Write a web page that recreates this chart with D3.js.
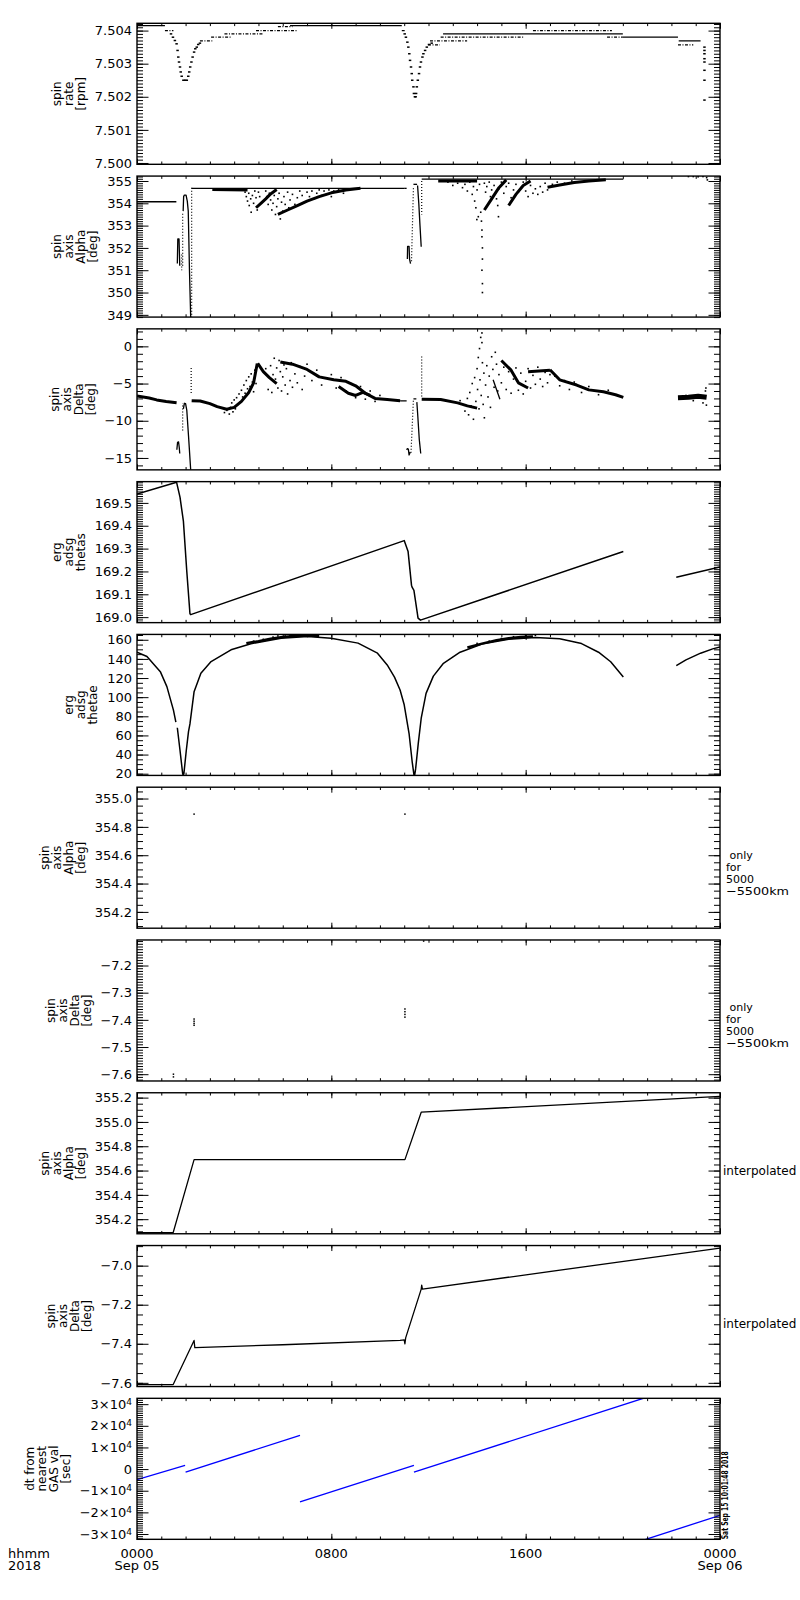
<!DOCTYPE html>
<html><head><meta charset="utf-8">
<script src="https://cdn.jsdelivr.net/npm/d3@7"></script>
<style>
body{margin:0;background:#fff}
svg{display:block}
text{font-family:"DejaVu Sans",sans-serif;fill:#000}
</style>
</head><body>
<svg id="c" width="800" height="1600"></svg>
<script>
// ================= DATA (hours since 2018-09-05 00:00 UT) =================
const hourDomain=[0,24];
const xMajorHours=[0,8,16,24];
const xMajorLabels=[["0000","Sep 05"],["0800"],["1600"],["0000","Sep 06"]];
const xCornerLabels=["hhmm","2018"];

// Panel 1: spin rate [rpm]
const rateRange=[7.49996,7.50422];
const rateTicks=[7.500,7.501,7.502,7.503,7.504];
const rateTitle=["spin","rate","[rpm]"];
const rateSegsSolid=[[0,1.15,7.50415],[6.3,10.9,7.50415],[12.6,20.0,7.5039],[20.0,22.27,7.5038],[22.3,23.2,7.50369]];
const rateSegsDashed=[[1.15,1.5,7.5040],[2.59,3.1,7.50369],[3.05,3.87,7.5038],[3.6,5.2,7.5039],[4.9,6.6,7.5040],[5.8,6.4,7.50412],[10.9,11.02,7.5040],[11.98,12.47,7.50357],[12.06,13.59,7.50369],[12.5,15.9,7.5038],[16.3,19.55,7.5040],[19.35,20.0,7.5038],[22.27,22.9,7.50357]];
const rateDots=[[1.40,7.5039],[1.48,7.5038],[1.56,7.5037],[1.63,7.5036],[1.67,7.5034],[1.70,7.5032],[1.73,7.50305],[1.77,7.5029],[1.80,7.50275],[1.84,7.50262],[1.91,7.5025],[1.98,7.5025],[2.05,7.5025],[2.11,7.50262],[2.15,7.50275],[2.19,7.5029],[2.24,7.50305],[2.29,7.5032],[2.35,7.50335],[2.40,7.50345],[2.46,7.5035],[2.52,7.50358],[2.59,7.50362],
 [11.02,7.5039],[11.07,7.5038],[11.13,7.50365],[11.17,7.5035],[11.21,7.5033],[11.24,7.5031],[11.28,7.5029],[11.31,7.5027],[11.33,7.5025],[11.38,7.5023],[11.40,7.5021],[11.44,7.5020],[11.47,7.5020],[11.49,7.5021],[11.52,7.5023],[11.56,7.5025],[11.61,7.5027],[11.65,7.5029],[11.69,7.50305],[11.75,7.5032],[11.79,7.5033],[11.86,7.5034],[11.93,7.5035],[12.02,7.50358],[12.13,7.50362],
 [23.36,7.5035],[23.36,7.5034],[23.36,7.5033],[23.36,7.50315],[23.36,7.50305],[23.36,7.5028],[23.36,7.5025],[23.36,7.5019]];

// Panel 2: spin axis alpha [deg]
const alphaRange=[348.9,355.22];
const alphaTicks=[349,350,351,352,353,354,355];
const alphaTitle=["spin","axis","Alpha","[deg]"];
const alphaSolid=[
 [[0,354.07],[1.62,354.07]],
 [[1.66,351.3],[1.68,352.4],[1.73,352.4],[1.76,351.2]],
 [[1.90,353.65],[1.92,354.3],[1.95,354.37],[2.02,354.37],[2.07,354.1],[2.11,353.65],[2.16,351],[2.21,348.9]],
 [[2.25,354.67],[11.0,354.67]],
 [[11.0,354.67],[11.1,354.67]],
 [[11.13,351.5],[11.14,352.07],[11.2,352.07],[11.22,351.5],[11.26,351.3]],
 [[11.38,354.85],[11.53,354.85]],
 [[11.55,354.8],[11.6,354.0],[11.65,353.0],[11.7,352.05]],
 [[11.72,355.08],[20.02,355.08]]];
const alphaDotted=[
 [[1.84,351.7],[1.84,351.0]],
 [[1.88,351.2],[1.88,353.6]],
 [[2.25,354.7],[2.25,348.9]],
 [[11.3,351.4],[11.38,354.7]],
 [[11.72,355.0],[11.72,353.5]]];
const alphaBands=[
 [[3.1,354.62],[4.55,354.6]],
 [[4.9,353.8],[5.1,354.0],[5.3,354.2],[5.5,354.42],[5.75,354.62]],
 [[5.8,353.5],[6.2,353.7],[6.6,353.9],[7.0,354.1],[7.5,354.3],[8.0,354.47],[8.6,354.6],[9.2,354.67]],
 [[12.4,355.0],[14.0,355.0]],
 [[14.3,353.7],[14.6,354.2],[14.9,354.7],[15.2,355.05]],
 [[15.3,353.9],[15.6,354.4],[15.9,354.8],[16.2,355.0]],
 [[16.9,354.72],[17.4,354.82],[18.0,354.93],[18.6,355.0],[19.3,355.06]]];
const alphaScatter=[[4.45,354.5],[4.5,354.3],[4.55,354.1],[4.6,354.45],[4.62,353.9],[4.68,354.2],[4.7,353.6],[4.75,354.35],[4.8,354.0],[4.85,354.55],[4.9,354.25],[4.95,353.7],[5.0,354.5],[5.05,354.3],
 [5.3,354.55],[5.35,354.3],[5.4,353.95],[5.45,354.45],[5.5,354.15],[5.55,353.7],[5.6,354.0],[5.65,354.35],[5.7,353.5],[5.75,353.85],[5.8,354.2],[5.85,354.45],[5.9,353.3],[5.95,354.05],[6.0,353.65],[6.05,354.3],[6.1,353.95],[6.2,354.5],[6.25,353.8],[6.3,354.15],[6.4,354.4],[6.5,353.95],[6.6,354.25],
 [6.7,354.55],[6.8,354.35],[6.9,354.05],[7.0,354.5],[7.1,354.3],[7.2,354.55],[7.3,354.2],[7.4,354.45],[7.5,354.6],[7.6,354.35],[7.7,354.55],[7.8,354.4],[7.9,354.6],[8.0,354.3],[8.1,354.55],[8.3,354.6],[8.5,354.45],[8.7,354.62],
 [14.15,353.6],[14.18,353.2],[14.2,352.8],[14.2,352.5],[14.22,352.0],[14.22,351.5],[14.2,351.0],[14.22,350.4],[14.22,350.0],[13.99,353.27],[14.88,353.4],
 [12.8,354.95],[13.0,354.8],[13.2,354.9],[13.4,354.7],[13.5,354.85],[13.6,354.55],[13.7,354.95],[13.8,354.4],[13.85,354.75],[13.9,354.1],[13.95,353.8],[14.0,354.6],[14.05,353.4],[14.1,354.85],[14.3,354.9],[14.35,354.5],[14.4,354.75],[14.5,354.95],[14.55,354.3],[14.6,354.6],[14.7,354.8],[14.8,354.2],[14.85,353.9],[14.9,354.65],[15.0,354.95],[15.1,354.45],[15.2,354.75],[15.3,354.9],[15.4,354.25],[15.5,354.6],[15.6,354.85],[15.7,354.5],[15.8,354.7],[15.9,354.95],[16.0,354.55],[16.1,354.3],[16.2,354.8],[16.3,354.45],[16.4,354.65],[16.5,354.4],[16.6,354.75],[16.7,354.5],[16.8,354.9],[16.9,354.6],[17.1,354.85],[17.3,354.95],[17.6,354.9],[17.9,355.0],
 [22.7,355.2],[22.9,355.2],[23.1,355.19],[23.3,355.2],[23.45,355.15],[23.48,355.05]];

// Panel 3: spin axis delta [deg]
const deltaRange=[-16.6,2.35];
const deltaTicks=[-15,-10,-5,0];
const deltaTitle=["spin","axis","Delta","[deg]"];
const deltaSolid=[
 [[1.64,-13.9],[1.67,-12.9],[1.71,-12.84],[1.74,-13.6],[1.76,-14.4]],
 [[1.91,-8.4],[1.95,-7.65],[2.0,-7.7],[2.05,-8.6],[2.12,-12],[2.21,-16.6]],
 [[10.83,-7.34],[11.1,-7.34]],
 [[11.1,-13.9],[11.13,-13.75],[11.17,-13.8],[11.2,-14.6],[11.25,-14.2]],
 [[11.38,-7.07],[11.5,-7.07]],
 [[11.52,-7.5],[11.56,-9.4],[11.62,-12.5],[11.68,-14.4]],
 [[14.66,-4.5],[14.94,-7.1]]];
const deltaDotted=[
 [[1.88,-11.3],[1.88,-7.65]],
 [[2.23,-2.9],[2.23,-6.5]],
 [[11.28,-14.3],[11.38,-7.1]],
 [[11.72,-1.35],[11.72,-6.9]]];
const deltaBands=[
 [[0,-6.66],[0.5,-6.95],[0.81,-7.2],[1.2,-7.4],[1.63,-7.57]],
 [[2.25,-7.3],[2.6,-7.35],[3.0,-7.7],[3.3,-8.1],[3.69,-8.45],[4.0,-8.2],[4.3,-7.4],[4.6,-6.2],[4.8,-4.9],[4.95,-2.3]],
 [[4.97,-2.3],[5.2,-3.4],[5.45,-4.2],[5.75,-5.0]],
 [[5.9,-2.1],[6.4,-2.4],[7.0,-3.1],[7.5,-4.1],[8.1,-4.5],[8.6,-4.7],[9.0,-5.3],[9.4,-6.3],[9.8,-7.0],[10.3,-7.15],[10.83,-7.3]],
 [[8.3,-5.4],[8.7,-6.3],[9.0,-6.6],[9.3,-6.2],[9.6,-6.6]],
 [[11.72,-7.1],[12.5,-7.15],[13.2,-7.6],[13.6,-8.0],[14.0,-8.3]],
 [[15.0,-1.9],[15.4,-3.2],[15.7,-4.9],[16.1,-5.6]],
 [[16.1,-3.4],[17.0,-3.2]],
 [[17.0,-3.15],[17.4,-4.5],[18.1,-5.2],[18.6,-5.85],[19.2,-6.1],[19.7,-6.5],[20.02,-6.85]]];
const deltaBlob=[[22.27,-6.9],[22.7,-6.85],[23.1,-6.7],[23.45,-6.85]];
const deltaScatter=[[3.6,-8.9],[3.7,-8.6],[3.8,-9.1],[3.85,-8.2],[3.9,-7.6],[3.95,-8.8],[4.0,-7.2],[4.05,-8.4],[4.1,-6.9],[4.15,-7.8],[4.2,-6.4],[4.25,-7.5],[4.3,-5.9],[4.35,-6.8],[4.4,-5.2],[4.45,-6.3],[4.5,-4.6],[4.55,-5.7],[4.6,-4.1],[4.65,-5.4],[4.7,-3.7],[4.75,-4.8],[4.8,-6.1],[4.85,-3.2],[4.9,-5.0],
 [5.3,-3.0],[5.4,-5.8],[5.5,-2.6],[5.55,-6.2],[5.6,-3.8],[5.65,-1.6],[5.7,-4.4],[5.75,-2.9],[5.8,-5.6],[5.85,-1.9],[5.9,-3.4],[5.95,-6.0],[6.0,-4.1],[6.05,-2.5],[6.1,-5.2],[6.15,-3.0],[6.2,-6.4],[6.3,-4.6],[6.35,-2.2],[6.4,-5.5],[6.5,-3.7],[6.6,-4.9],[6.7,-2.7],[6.8,-5.8],[6.9,-4.0],[7.0,-2.4],[7.2,-4.6],[7.4,-3.2],[7.6,-5.2],
 [8.0,-3.8],[8.2,-5.6],[8.4,-4.2],[8.6,-6.0],[8.8,-5.0],[9.0,-6.9],[9.2,-5.4],[9.4,-7.1],[9.6,-6.0],[9.8,-7.4],[10.0,-6.6],
 [13.3,-7.3],[13.5,-8.7],[13.6,-7.0],[13.65,-9.2],[13.7,-6.2],[13.75,-8.0],[13.8,-5.0],[13.85,-9.8],[13.9,-4.2],[13.95,-7.4],[14.0,-3.0],[14.02,-5.8],[14.05,-1.5],[14.08,-8.4],[14.1,-0.3],[14.12,-4.5],[14.15,1.2],[14.17,-6.6],[14.2,1.8],[14.2,0.5],[14.22,-2.2],[14.25,-7.8],[14.28,-3.6],[14.3,-9.6],[14.35,-5.2],[14.4,-2.6],[14.45,-6.8],[14.5,-4.0],[14.55,-8.2],[14.6,-1.4],[14.65,-3.1],[14.7,-5.5],[14.75,-0.8],[14.8,-2.4],[14.85,-6.0],[14.9,-3.8],[15.0,-4.9],[15.1,-2.8],[15.2,-5.8],[15.3,-3.4],[15.4,-6.3],[15.5,-4.4],[15.6,-2.9],[15.7,-5.9],[15.8,-3.6],[15.9,-6.4],[16.0,-4.7],[16.1,-3.0],[16.2,-5.6],[16.3,-3.9],[16.4,-5.1],[16.5,-2.8],[16.6,-4.4],[16.7,-5.4],[16.8,-3.5],[16.9,-4.9],[17.0,-3.8],[17.2,-4.0],[17.4,-5.3],[17.6,-4.6],[17.8,-5.8],[18.0,-4.8],[18.3,-6.2],[18.6,-5.4],[19.0,-6.5],[19.4,-5.9],
 [23.4,-6.0],[23.42,-5.6],[23.44,-7.9],[23.3,-7.6],[22.9,-7.3],[22.6,-6.6]];

// Panel 4: erg adsg thetas
const thetasRange=[168.976,169.593];
const thetasTicks=[169.0,169.1,169.2,169.3,169.4,169.5];
const thetasTitle=["erg","adsg","thetas"];
const thetasLines=[
 [[0,169.539],[1.63,169.59],[1.77,169.525],[1.91,169.42],[2.05,169.2],[2.18,169.015],[2.21,169.011],[11.0,169.335],[11.16,169.287],[11.3,169.14],[11.33,169.13],[11.4,169.117],[11.57,168.996],[11.67,168.987],[20.02,169.287]],
 [[22.2,169.175],[24,169.22]]];

// Panel 5: erg adsg thetae
const thetaeRange=[18.2,165.6];
const thetaeTicks=[20,40,60,80,100,120,140,160];
const thetaeTitle=["erg","adsg","thetae"];
const thetaeLines=[
 [[0,147.1],[0.41,142.5],[0.96,126.7],[1.23,111],[1.5,86.5],[1.6,74]],
 [[1.66,68],[1.77,44.5],[1.88,20],[1.9,18.5],[1.93,20],[2.03,44.5],[2.12,64],[2.18,72],[2.35,105.7],[2.63,125],[3.05,137.2],[3.87,149.5],[4.69,155.8],[5.93,161.7],[7.03,163.5],[7.99,161.7],[9.1,156.5],[9.9,146],[10.3,133.7],[10.6,121],[10.83,107.5],[11.0,92],[11.2,62],[11.33,32],[11.4,19],[11.43,18.5],[11.47,25],[11.58,52],[11.7,78],[11.9,104],[12.2,122],[12.6,135],[13.3,147],[14.2,155.5],[15.3,160.5],[16.4,162.5],[17.4,161],[18.3,156],[19.0,147],[19.5,137],[20.02,121]],
 [[22.2,133],[22.6,139],[23.2,146],[23.7,150.5],[24,152.5]]];
const thetaeBands=[
 [[4.5,156.5],[5.0,158.5],[5.5,161],[6.0,163],[6.5,164],[7.0,164.5],[7.5,164]],
 [[13.6,152],[14.2,156],[14.8,159.5],[15.3,161.5],[15.8,163],[16.3,163.5]]];
const thetaeScatter=[[4.8,158.5],[5.2,160.5],[5.6,162.8],[5.8,164],[6.1,165],[6.3,164.8],[6.6,165.2],[6.9,165],[7.2,165.3],[7.4,164.6],[14.0,156.2],[14.5,158.5],[15.0,161.3],[15.5,163.2],[16.0,164.3],[16.4,164.6]];

// Panel 6: spin axis alpha (5000-5500 km only)
const alpha2Range=[354.085,355.08];
const alpha2Ticks=[354.2,354.4,354.6,354.8,355.0];
const alpha2Dots=[[2.35,354.89],[11.03,354.89]];

// Panel 7: spin axis delta (5000-5500 km only)
const delta2Range=[-7.625,-7.106];
const delta2Ticks=[-7.6,-7.5,-7.4,-7.3,-7.2];
const delta2Dots=[[1.5,-7.60],[1.5,-7.61],[2.35,-7.397],[2.35,-7.405],[2.35,-7.413],[2.35,-7.42],[11.03,-7.36],[11.03,-7.37],[11.03,-7.38],[11.03,-7.39],[11.8,-7.11]];
const onlyNote=[" only","for","5000","\u22125500km"];

// Panel 8: spin axis alpha interpolated
const alpha3Range=[354.08,355.24];
const alpha3Ticks=[354.2,354.4,354.6,354.8,355.0,355.2];
const alpha3Line=[[0,354.09],[1.49,354.09],[2.35,354.69],[11.03,354.69],[11.7,355.08],[24,355.21]];

// Panel 9: spin axis delta interpolated
const delta3Range=[-7.619,-6.897];
const delta3Ticks=[-7.6,-7.4,-7.2,-7.0];
const delta3Line=[[0,-7.609],[1.49,-7.609],[2.35,-7.383],[2.38,-7.42],[6.0,-7.405],[10.83,-7.383],[11.0,-7.38],[11.03,-7.40],[11.06,-7.37],[11.7,-7.12],[11.72,-7.10],[11.75,-7.12],[24,-6.91]];
const interpNote="interpolated";

// Panel 10: dt from nearest GAS value [sec]
const dtRange=[-32450,32700];
const dtTicks=[-30000,-20000,-10000,0,10000,20000,30000];
const dtTitle=["dt from","nearest","GAS val","[sec]"];
const dtSegments=[
 [[0,-4900],[1.98,1700]],
 [[2.0,-1400],[6.71,15600]],
 [[6.71,-15200],[11.4,1700]],
 [[11.4,-1400],[20.84,32700]],
 [[20.94,-32450],[24,-21400]]];
const stampText="Sat Sep 15 10:01:48 2018";

// ================= LAYOUT =================
const svg=d3.select("#c");
const X0=137,X1=720,TOP0=23.3,STEP=152.78,PH=141;
const x=d3.scaleLinear().domain(hourDomain).range([X0,X1]);
const FONT='"DejaVu Sans",sans-serif';

function minorVals(dom,step){
  const lo=Math.min(dom[0],dom[1]),hi=Math.max(dom[0],dom[1]);
  const a=Math.ceil(lo/step-1e-9),b=Math.floor(hi/step+1e-9);
  return d3.range(a,b+1).map(i=>+(i*step).toFixed(8));
}
function styleAxis(sel){
  sel.select(".domain").remove();
  sel.selectAll("line").attr("stroke","#000").attr("stroke-width",1);
  sel.attr("font-family",FONT).attr("font-size",13);
}
function bare(sel){ styleAxis(sel); sel.selectAll("text").remove(); }

function makePanel(i,cfg){
  const top=TOP0+i*STEP,bot=top+PH;
  const y=d3.scaleLinear().domain(cfg.domain).range([bot,top]);
  const g=svg.append("g");
  const cid="clip"+i;
  svg.append("clipPath").attr("id",cid).append("rect").attr("x",X0).attr("y",top).attr("width",X1-X0).attr("height",PH);
  const data=g.append("g").attr("clip-path",`url(#${cid})`);
  const minors=minorVals(cfg.domain,cfg.minor);
  const la=g.append("g").attr("transform",`translate(${X0},0)`)
    .call(d3.axisLeft(y).tickValues(cfg.ticks).tickSize(-11.5).tickPadding(5).tickFormat(cfg.fmt));
  styleAxis(la);
  la.selectAll("text").attr("fill","#000");
  g.append("g").attr("transform",`translate(${X0},0)`).call(d3.axisLeft(y).tickValues(minors).tickSize(-6)).call(bare);
  g.append("g").attr("transform",`translate(${X1},0)`).call(d3.axisRight(y).tickValues(cfg.ticks).tickSize(-11.5)).call(bare);
  g.append("g").attr("transform",`translate(${X1},0)`).call(d3.axisRight(y).tickValues(minors).tickSize(-6)).call(bare);
  const hrs=d3.range(hourDomain[0],hourDomain[1]+1);
  [[d3.axisBottom,bot],[d3.axisTop,top]].forEach(([ax,yy])=>{
    g.append("g").attr("transform",`translate(0,${yy})`).call(ax(x).tickValues(xMajorHours).tickSize(-5.5)).call(bare);
    g.append("g").attr("transform",`translate(0,${yy})`).call(ax(x).tickValues(hrs).tickSize(-2.8)).call(bare);
  });
  g.append("rect").attr("x",X0).attr("y",top).attr("width",X1-X0).attr("height",PH)
    .attr("fill","none").attr("stroke","#000").attr("stroke-width",1.4);
  if(cfg.post) cfg.post(la);
  if(cfg.title){
    let left=X0;
    la.selectAll("text").each(function(){const b=this.getBBox();const m=this.getCTM();left=Math.min(left,b.x+m.e);});
    const n=cfg.title.length,lastX=left-14,cy=(top+bot)/2;
    cfg.title.forEach((t,k)=>{
      svg.append("text").attr("transform",`translate(${lastX-(n-1-k)*12},${cy}) rotate(-90)`)
        .attr("text-anchor","middle").attr("dy","0.35em").attr("font-size",12).text(t);
    });
  }
  return {y,data,top,bot};
}

function drawLine(p,pts,w,dash,color){
  p.data.append("path").attr("d",d3.line().x(d=>x(d[0])).y(d=>p.y(d[1]))(pts))
    .attr("fill","none").attr("stroke",color||"#000").attr("stroke-width",w)
    .attr("stroke-dasharray",dash||null).attr("stroke-linejoin","round");
}
function drawDots(p,pts,w,h){
  p.data.selectAll(null).data(pts).enter().append("rect")
    .attr("x",d=>x(d[0])-w/2).attr("y",d=>p.y(d[1])-h/2).attr("width",w).attr("height",h).attr("fill","#000");
}
function drawSegs(p,list,dash){
  list.forEach(s=>drawLine(p,[[s[0],s[2]],[s[1],s[2]]],1.3,dash));
}
const f3=d=>d.toFixed(3), f1=d=>d.toFixed(1), f0=d=>d3.format("d")(d).replace("-","\u2212");
const fneg1=d=>d.toFixed(1).replace("-","\u2212");

const p1=makePanel(0,{domain:rateRange,ticks:rateTicks,minor:0.0001,fmt:f3,title:rateTitle});
drawSegs(p1,rateSegsSolid,null);
drawSegs(p1,rateSegsDashed,"3,1.5,1,1.5");
drawDots(p1,rateDots,2.5,1.5);

const p2=makePanel(1,{domain:alphaRange,ticks:alphaTicks,minor:0.1,fmt:f0,title:alphaTitle});
alphaSolid.forEach(l=>drawLine(p2,l,1.3));
alphaDotted.forEach(l=>drawLine(p2,l,1.2,"1,2"));
alphaBands.forEach(l=>drawLine(p2,l,3));
drawDots(p2,alphaScatter,1.6,1.6);

const p3=makePanel(2,{domain:deltaRange,ticks:deltaTicks,minor:1,fmt:f0,title:deltaTitle});
deltaSolid.forEach(l=>drawLine(p3,l,1.3));
deltaDotted.forEach(l=>drawLine(p3,l,1.2,"1,2"));
deltaBands.forEach(l=>drawLine(p3,l,3));
drawLine(p3,deltaBlob,5);
drawDots(p3,deltaScatter,1.6,1.6);

const p4=makePanel(3,{domain:thetasRange,ticks:thetasTicks,minor:0.01,fmt:f1,title:thetasTitle});
thetasLines.forEach(l=>drawLine(p4,l,1.5));

const p5=makePanel(4,{domain:thetaeRange,ticks:thetaeTicks,minor:5,fmt:f0,title:thetaeTitle});
thetaeLines.forEach(l=>drawLine(p5,l,1.5));
thetaeBands.forEach(l=>drawLine(p5,l,2.5));
drawDots(p5,thetaeScatter,1.6,1.6);

const p6=makePanel(5,{domain:alpha2Range,ticks:alpha2Ticks,minor:0.05,fmt:f1,title:alphaTitle});
drawDots(p6,alpha2Dots,1.5,1.5);
const p7=makePanel(6,{domain:delta2Range,ticks:delta2Ticks,minor:0.01,fmt:fneg1,title:deltaTitle});
drawDots(p7,delta2Dots,1.5,1.5);
const p8=makePanel(7,{domain:alpha3Range,ticks:alpha3Ticks,minor:0.05,fmt:f1,title:alphaTitle});
drawLine(p8,alpha3Line,1.3);
const p9=makePanel(8,{domain:delta3Range,ticks:delta3Ticks,minor:0.05,fmt:fneg1,title:deltaTitle});
drawLine(p9,delta3Line,1.3);
const p10=makePanel(9,{domain:dtRange,ticks:dtTicks,minor:1000,fmt:d=>"",title:dtTitle,
  post:la=>{
    la.selectAll(".tick text").each(function(d){
      const t=d3.select(this);t.text("");
      if(d===0){t.text("0");return;}
      t.append("tspan").text((d<0?"\u2212":"")+Math.abs(d/10000)+"\u00d710");
      t.append("tspan").attr("dy","-0.45em").attr("font-size",9).text("4");
    });
  }});
dtSegments.forEach(l=>drawLine(p10,l,1.3,null,"#0000ff"));

[p6,p7].forEach(p=>{
  const cy=(p.top+p.bot)/2;
  const t=svg.append("text").attr("x",726).attr("y",cy+1).attr("font-size",11).style("white-space","pre");
  onlyNote.forEach((s,k)=>t.append("tspan").attr("x",726).attr("dy",k?12:0)
    .attr("textLength",k===3?63:null).attr("lengthAdjust","spacingAndGlyphs").text(s));
});
[p8,p9].forEach(p=>{
  svg.append("text").attr("x",723).attr("y",(p.top+p.bot)/2+12).attr("font-size",12).text(interpNote);
});
xMajorHours.forEach((h,k)=>{
  const t=svg.append("text").attr("x",x(h)).attr("y",1557.5).attr("text-anchor","middle").attr("font-size",13);
  xMajorLabels[k].forEach((s,j)=>t.append("tspan").attr("x",x(h)).attr("dy",j?12.5:0).text(s));
});
{
  const t=svg.append("text").attr("x",8).attr("y",1557.5).attr("font-size",13);
  xCornerLabels.forEach((s,j)=>t.append("tspan").attr("x",8).attr("dy",j?12.5:0).text(s));
}
svg.append("text").attr("transform",`translate(728,${p10.bot}) rotate(-90)`).attr("font-size",8).attr("font-weight","bold")
  .attr("textLength",88).attr("lengthAdjust","spacingAndGlyphs").text(stampText);
</script>
</body></html>
